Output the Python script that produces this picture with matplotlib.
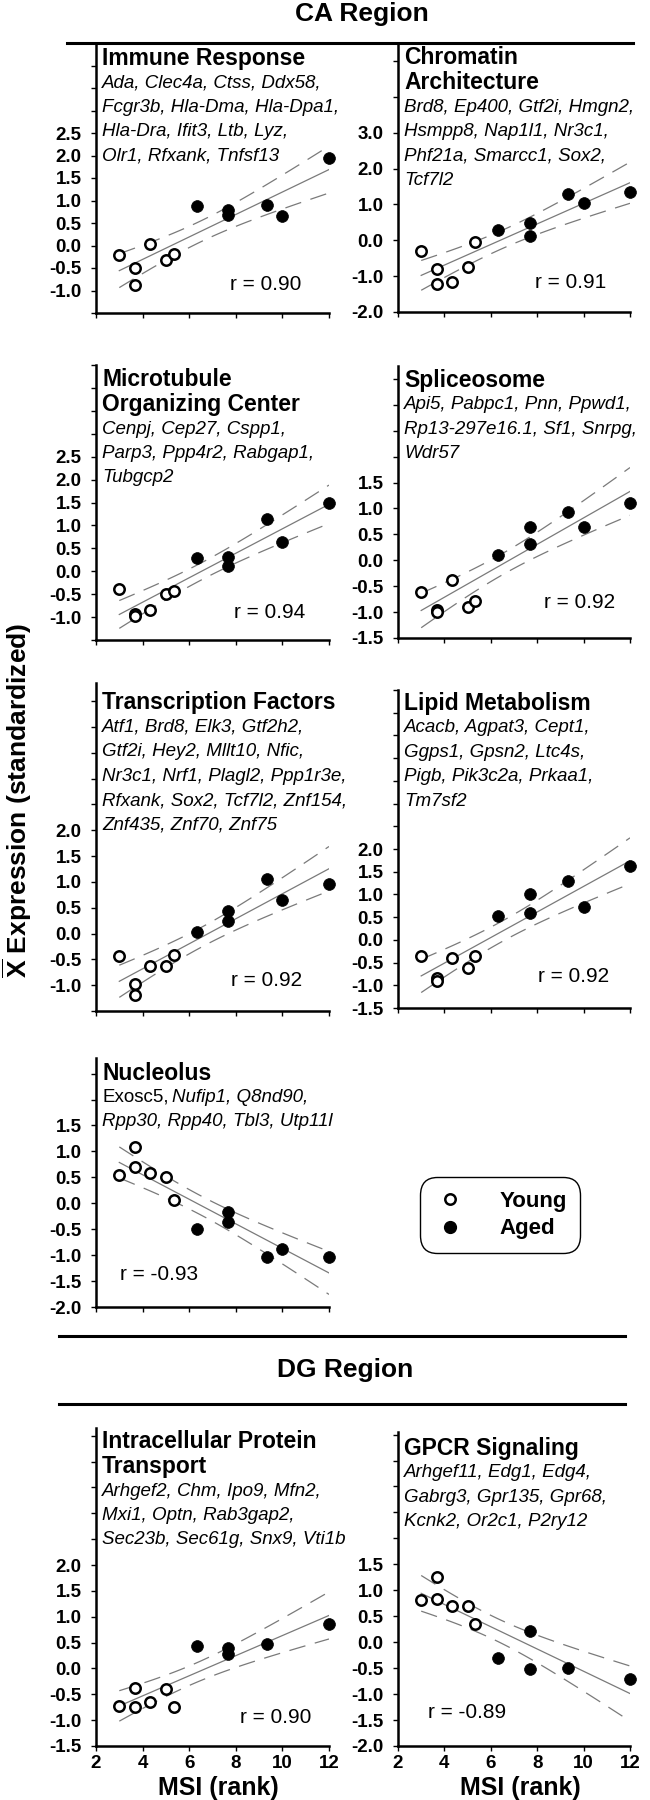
import numpy as np
import matplotlib.pyplot as plt
from matplotlib.lines import Line2D

plt.rcParams['font.family'] = ['Liberation Sans', 'DejaVu Sans']
plt.rcParams['mathtext.fontset'] = 'custom'
plt.rcParams['mathtext.rm'] = 'Liberation Sans'
plt.rcParams['mathtext.bf'] = 'Liberation Sans:bold'
plt.rcParams['lines.scale_dashes'] = False

W, H = 650, 1800

# MSI rank of every animal (first 6 young, rest aged)
msi_ca = [3.0, 3.67, 3.67, 4.33, 5.0, 5.33, 6.33, 7.67, 7.67, 9.33, 10.0, 12.0]
msi_dg = [3.0, 3.67, 3.67, 4.33, 5.0, 5.33, 6.33, 7.67, 7.67, 9.33, 12.0]
n_young = 6

# mean standardized expression, same animal order as msi
immune = [-0.22, -0.50, -0.87, 0.04, -0.33, -0.19, 0.87, 0.79, 0.68, 0.90, 0.66, 1.95]
chromatin = [-0.29, -0.80, -1.21, -1.15, -0.75, -0.06, 0.28, 0.49, 0.11, 1.29, 1.05, 1.35]
microtubule = [-0.39, -0.93, -0.97, -0.85, -0.50, -0.44, 0.28, 0.32, 0.11, 1.13, 0.64, 1.50]
spliceosome = [-0.62, -0.96, -1.00, -0.39, -0.90, -0.79, 0.10, 0.65, 0.32, 0.94, 0.65, 1.10]
transcription = [-0.44, -0.98, -1.19, -0.63, -0.63, -0.42, 0.03, 0.43, 0.24, 1.06, 0.65, 0.95]
lipid = [-0.35, -0.85, -0.91, -0.39, -0.61, -0.35, 0.52, 1.00, 0.60, 1.29, 0.72, 1.63]
nucleolus = [0.55, 1.08, 0.69, 0.59, 0.50, 0.07, -0.50, -0.16, -0.37, -1.04, -0.88, -1.03]
protein_transport = [-0.72, -0.37, -0.74, -0.65, -0.39, -0.74, 0.44, 0.40, 0.28, 0.47, 0.85]
gpcr = [0.82, 1.26, 0.84, 0.69, 0.69, 0.35, -0.30, 0.22, -0.52, -0.50, -0.70]

r_labels = ["r = 0.90", "r = 0.91", "r = 0.94", "r = 0.92", "r = 0.92", "r = 0.92",
            "r = -0.93", "r = 0.90", "r = -0.89"]

titles = [["Immune Response"], ["Chromatin", "Architecture"],
          ["Microtubule", "Organizing Center"], ["Spliceosome"],
          ["Transcription Factors"], ["Lipid Metabolism"], ["Nucleolus"],
          ["Intracellular Protein", "Transport"], ["GPCR Signaling"]]

genes = [
    ["Ada, Clec4a, Ctss, Ddx58,", "Fcgr3b, Hla-Dma, Hla-Dpa1,", "Hla-Dra, Ifit3, Ltb, Lyz,", "Olr1, Rfxank, Tnfsf13"],
    ["Brd8, Ep400, Gtf2i, Hmgn2,", "Hsmpp8, Nap1l1, Nr3c1,", "Phf21a, Smarcc1, Sox2,", "Tcf7l2"],
    ["Cenpj, Cep27, Cspp1,", "Parp3, Ppp4r2, Rabgap1,", "Tubgcp2"],
    ["Api5, Pabpc1, Pnn, Ppwd1,", "Rp13-297e16.1, Sf1, Snrpg,", "Wdr57"],
    ["Atf1, Brd8, Elk3, Gtf2h2,", "Gtf2i, Hey2, Mllt10, Nfic,", "Nr3c1, Nrf1, Plagl2, Ppp1r3e,",
     "Rfxank, Sox2, Tcf7l2, Znf154,", "Znf435, Znf70, Znf75"],
    ["Acacb, Agpat3, Cept1,", "Ggps1, Gpsn2, Ltc4s,", "Pigb, Pik3c2a, Prkaa1,", "Tm7sf2"],
    ["Exosc5, Nufip1, Q8nd90,", "Rpp30, Rpp40, Tbl3, Utp11l"],
    ["Arhgef2, Chm, Ipo9, Mfn2,", "Mxi1, Optn, Rab3gap2,", "Sec23b, Sec61g, Snx9, Vti1b"],
    ["Arhgef11, Edg1, Edg4,", "Gabrg3, Gpr135, Gpr68,", "Kcnk2, Or2c1, P2ry12"],
]
upright = "Exosc5,"

series = [(msi_ca, immune), (msi_ca, chromatin), (msi_ca, microtubule), (msi_ca, spliceosome),
          (msi_ca, transcription), (msi_ca, lipid), (msi_ca, nucleolus),
          (msi_dg, protein_transport), (msi_dg, gpcr)]

# layout: axes box in pixels (left, top, right, bottom), ylim, labelled tick range, r text offset
boxes = [(96, 43, 329, 313), (398, 43, 630, 312), (96, 365, 329, 640), (398, 366, 630, 638),
         (96, 683, 329, 1011), (398, 690, 630, 1008), (96, 1058, 329, 1307),
         (96, 1428, 329, 1746), (398, 1432, 630, 1746)]
ylims = [(-1.5, 4.5), (-2, 5.5), (-1.5, 4.5), (-1.5, 3.75), (-1.5, 4.85), (-1.5, 5.5),
         (-2, 2.8), (-1.5, 4.65), (-2, 4.05)]
tick_rng = [(-1.0, 2.5, 0.5), (-2.0, 3.0, 1.0), (-1.0, 2.5, 0.5), (-1.5, 1.5, 0.5),
            (-1.0, 2.0, 0.5), (-1.5, 2.0, 0.5), (-2.0, 1.5, 0.5), (-1.5, 2.0, 0.5), (-2.0, 1.5, 0.5)]
r_pos = [(134, 23), (137, 24), (138, 22), (146, 30), (135, 25), (140, 26), (24, 27), (144, 23), (30, 28)]
text_top = [15, 15, 15, 14, 20, 13, 15, 14, 16]

t_crit = {9: 2.262, 10: 2.228}

fig = plt.figure(figsize=(W / 100, H / 100), dpi=100)

for i in range(9):
    l, t, r, b = boxes[i]
    ax = fig.add_axes([l / W, 1 - b / H, (r - l) / W, (b - t) / H])
    x = np.array(series[i][0])
    y = np.array(series[i][1])

    # regression line with 95% confidence band
    n = len(x)
    slope, icpt = np.polyfit(x, y, 1)
    xs = np.linspace(x.min(), x.max(), 100)
    fit = icpt + slope * xs
    s = np.sqrt(np.sum((y - (icpt + slope * x)) ** 2) / (n - 2))
    se = s * np.sqrt(1 / n + (xs - x.mean()) ** 2 / np.sum((x - x.mean()) ** 2))
    ci = t_crit[n - 2] * se
    ax.plot(xs, fit, color='#7a7a7a', lw=0.9, zorder=2)
    ax.plot(xs, fit + ci, color='#7a7a7a', lw=0.9, dashes=(12, 7), zorder=2)
    ax.plot(xs, fit - ci, color='#7a7a7a', lw=0.9, dashes=(12, 7), zorder=2)

    ax.plot(x[:n_young], y[:n_young], 'o', ms=7.5, mfc='white', mec='black', mew=1.8,
            ls='none', zorder=3, clip_on=False)
    ax.plot(x[n_young:], y[n_young:], 'o', ms=8.5, mfc='black', mec='black', mew=0.5,
            ls='none', zorder=3, clip_on=False)

    ax.set_xlim(2, 12)
    ax.set_ylim(*ylims[i])
    for side in ['top', 'right']:
        ax.spines[side].set_visible(False)
    for side in ['left', 'bottom']:
        ax.spines[side].set_linewidth(1.8)
    ax.set_facecolor('none')

    lo, hi, step = tick_rng[i]
    yt = np.arange(ylims[i][0], ylims[i][1] + 1e-6, step)
    ax.set_yticks(yt)
    ax.set_yticklabels(['%.1f' % v if lo - 1e-6 <= v <= hi + 1e-6 else '' for v in yt],
                       fontweight='bold', fontsize=13.5)
    ax.set_xticks([2, 4, 6, 8, 10, 12])
    if i >= 7:
        ax.set_xticklabels(['2', '4', '6', '8', '10', '12'], fontweight='bold', fontsize=13.5)
        ax.annotate('MSI (rank)', xy=(0.5, 0), xycoords='axes fraction', xytext=(6, -42),
                    textcoords='offset pixels', ha='center', va='center',
                    fontsize=18, fontweight='bold')
    else:
        ax.set_xticklabels([])
    ax.tick_params(direction='out', length=3.5, width=1, pad=7, axis='y')
    ax.tick_params(direction='out', length=3.5, width=1, pad=3, axis='x')

    # title and gene list
    dy = text_top[i]
    for line in titles[i]:
        ax.annotate(line, xy=(0, 1), xycoords='axes fraction', xytext=(6, -dy),
                    textcoords='offset pixels', va='center', ha='left',
                    fontsize=16.5, fontweight='bold')
        dy += 24.5
    for line in genes[i]:
        if line.startswith(upright):
            t0 = ax.annotate(upright, xy=(0, 1), xycoords='axes fraction', xytext=(6, -dy),
                             textcoords='offset pixels', va='center', ha='left', fontsize=13.5)
            ax.annotate(line[len(upright) + 1:], xy=(1, 0), xycoords=t0, xytext=(4, 0),
                        textcoords='offset pixels', va='bottom', ha='left',
                        fontsize=13.5, style='italic')
        else:
            ax.annotate(line, xy=(0, 1), xycoords='axes fraction', xytext=(6, -dy),
                        textcoords='offset pixels', va='center', ha='left',
                        fontsize=13.5, style='italic')
        dy += 24.5

    ax.annotate(r_labels[i], xy=(0, 0), xycoords='axes fraction', xytext=r_pos[i],
                textcoords='offset pixels', va='baseline', ha='left', fontsize=15)

# section headers and separating rules
fig.text(362 / W, 1 - 14 / H, 'CA Region', ha='center', va='center', fontsize=19, fontweight='bold')
fig.text(345 / W, 1 - 1370 / H, 'DG Region', ha='center', va='center', fontsize=19, fontweight='bold')
fig.add_artist(Line2D([67 / W, 633 / W], [1 - 43 / H] * 2, lw=2.2, color='black'))
fig.add_artist(Line2D([59 / W, 625 / W], [1 - 1336 / H] * 2, lw=2.2, color='black'))
fig.add_artist(Line2D([59 / W, 625 / W], [1 - 1404 / H] * 2, lw=2.2, color='black'))

fig.text(17 / W, 1 - 800 / H, r'$\overline{\mathbf{X}}$ Expression (standardized)',
         rotation=90, ha='center', va='center', fontsize=19, fontweight='bold')

young_h = Line2D([], [], ls='none', marker='o', ms=7.5, mfc='white', mec='black', mew=1.8)
aged_h = Line2D([], [], ls='none', marker='o', ms=8.5, mfc='black', mec='black')
leg = fig.legend([young_h, aged_h], ['Young', 'Aged'], loc='center',
                 bbox_to_anchor=(500 / W, 1 - 1215 / H), prop={'weight': 'bold', 'size': 16},
                 handlelength=1.5, handletextpad=1.5, borderpad=0.6, labelspacing=0.3,
                 frameon=True, fancybox=True, edgecolor='black', framealpha=1)
leg.get_frame().set_boxstyle('round,pad=0,rounding_size=0.8')
leg.get_frame().set_linewidth(1.0)

fig.savefig('out.png', dpi=100)
